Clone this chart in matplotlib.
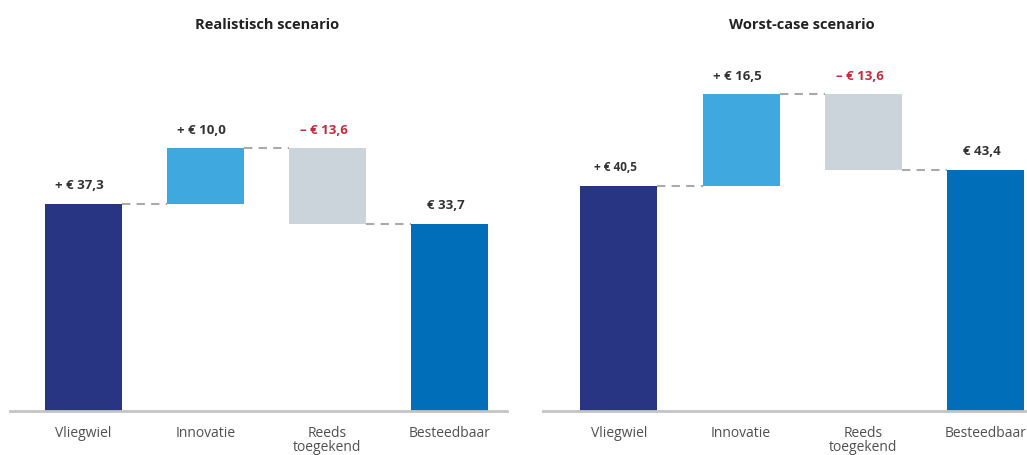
import matplotlib
matplotlib.use('Agg')
import matplotlib.pyplot as plt

plt.rcParams['font.family'] = ['Open Sans', 'DejaVu Sans']

categories = ['Vliegwiel', 'Innovatie', 'Reeds\ntoegekend', 'Besteedbaar']
colors = ['#283583', '#3FA9DF', '#CBD3DB', '#006EB9']

realistic_steps = [37.3, 10.0, -13.6]
realistic_labels = ['+ € 37,3', '+ € 10,0', '– € 13,6', '€ 33,7']

worst_steps = [40.5, 16.5, -13.6]
worst_labels = ['+ € 40,5', '+ € 16,5', '– € 13,6', '€ 43,4']

TEXT = '#333333'
RED = '#C8283C'


def waterfall(ax, steps, labels, title, title_x, xlim, first_small=False):
    # bottoms / heights from the running total
    bottoms, heights = [], []
    total = 0.0
    for s in steps:
        if s >= 0:
            bottoms.append(total)
            heights.append(s)
        else:
            bottoms.append(total + s)
            heights.append(-s)
        total += s
    bottoms.append(0.0)
    heights.append(total)

    x = list(range(len(categories)))
    w = 0.63
    ax.bar(x, heights, bottom=bottoms, width=w, color=colors, zorder=2)

    # dashed connectors at running totals
    run = 0.0
    for i, s in enumerate(steps):
        run += s
        ax.plot([i + w / 2, i + 1 - w / 2], [run, run], color='#aaaaaa',
                lw=1.5, ls=(0, (4, 3)), zorder=1)

    for i, lab in enumerate(labels):
        top = bottoms[i] + heights[i]
        col = RED if lab.startswith('–') else TEXT
        fs = 8.5 if (first_small and i == 0) else 9.5
        ax.text(i - 0.03, top + 2.1, lab, ha='center', va='bottom', fontsize=fs,
                fontweight='bold', color=col)

    ax.set_xlim(*xlim)
    ax.set_ylim(0, 66.8)
    ax.set_xticks(x)
    ax.set_xticklabels(categories, fontsize=10, color='#505050', linespacing=0.88)
    ax.tick_params(axis='x', length=0, pad=11)
    ax.set_yticks([])
    for sp in ['top', 'right', 'left']:
        ax.spines[sp].set_visible(False)
    ax.spines['bottom'].set_color('#c4c4c4')
    ax.spines['bottom'].set_linewidth(2)
    ax.text(title_x, 1.04, title, transform=ax.transAxes, ha='center', va='center',
            fontsize=10.5, fontweight='bold', color='#222222')


W, H = 1027, 455
fig = plt.figure(figsize=(W / 100, H / 100), dpi=100)
ax1 = fig.add_axes([10 / W, 44 / H, 497 / W, 371 / H])
ax2 = fig.add_axes([543 / W, 44 / H, 484 / W, 371 / H])

waterfall(ax1, realistic_steps, realistic_labels, 'Realistisch scenario', 0.517, (-0.6, 3.47))
waterfall(ax2, worst_steps, worst_labels, 'Worst-case scenario', 0.535, (-0.62, 3.34), first_small=True)

fig.savefig('out.png', dpi=100, facecolor='white')
